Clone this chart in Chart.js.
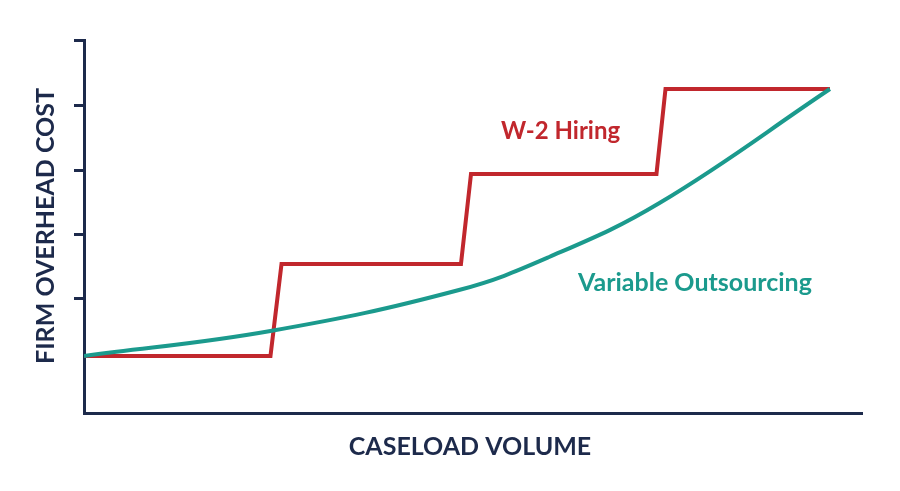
<!DOCTYPE html>
<html lang="en">
<head>
  <meta charset="UTF-8" />
  <title>Overhead Cost vs Caseload</title>
  <script src="https://cdn.jsdelivr.net/npm/chart.js@4.4.0/dist/chart.umd.min.js"></script>
  <style>
    html, body { margin: 0; background: #fff; }
    #wrap { width: 900px; height: 491px; }
  </style>
</head>
<body>
  <div id="wrap"><canvas id="chart"></canvas></div>
  <script>
    // caseload volume (x) and overhead cost (y), arbitrary units
    const hiringX = [0, 186, 197, 376, 386, 571, 580, 744];
    const hiringY = [57, 57, 149, 149, 239, 239, 324, 324];
    const outsourceX = [0, 186, 374, 464, 574, 744];
    const outsourceY = [57, 82, 123, 156, 210, 324];
    const yTicks = [115, 179, 243, 308, 373];

    const NAVY = '#1d2a4b';
    const RED = '#c1272d';
    const TEAL = '#1b9a8d';

    const textPlugin = {
      id: 'texts',
      afterDraw(chart) {
        const ctx = chart.ctx;
        ctx.save();
        ctx.textBaseline = 'middle';
        ctx.font = 'bold 24px Lato';
        ctx.fillStyle = RED;
        ctx.textAlign = 'left';
        ctx.fillText('W-2 Hiring', 501, 131);
        ctx.fillStyle = TEAL;
        ctx.font = 'bold 25px Lato';
        ctx.fillText('Variable Outsourcing', 578, 283);
        ctx.fillStyle = NAVY;
        ctx.font = 'bold 25px Lato';
        ctx.textAlign = 'center';
        ctx.fillText('CASELOAD VOLUME', 470, 447);
        ctx.translate(46, 226);
        ctx.rotate(-Math.PI / 2);
        ctx.fillText('FIRM OVERHEAD COST', 0, 0);
        ctx.restore();
      }
    };

    new Chart(document.getElementById('chart'), {
      type: 'line',
      data: {
        datasets: [
          {
            label: 'Variable Outsourcing',
            data: outsourceX.map((x, i) => ({ x, y: outsourceY[i] })),
            borderColor: TEAL,
            borderWidth: 4,
            pointRadius: 0,
            tension: 0.4
          },
          {
            label: 'W-2 Hiring',
            data: hiringX.map((x, i) => ({ x, y: hiringY[i] })),
            borderColor: RED,
            borderWidth: 4,
            pointRadius: 0,
            tension: 0
          }
        ]
      },
      options: {
        responsive: true,
        maintainAspectRatio: false,
        animation: false,
        layout: { padding: { left: 74, right: 38, top: 40, bottom: 70 } },
        plugins: { legend: { display: false }, tooltip: { enabled: false } },
        scales: {
          x: {
            type: 'linear', min: 0, max: 776,
            ticks: { display: false },
            grid: { display: false },
            border: { color: NAVY, width: 3 }
          },
          y: {
            type: 'linear', min: 0, max: 373,
            afterBuildTicks: axis => { axis.ticks = yTicks.map(v => ({ value: v })); },
            ticks: { display: false },
            grid: { drawOnChartArea: false, drawTicks: true, tickLength: 10, color: NAVY, lineWidth: 3 },
            border: { color: NAVY, width: 3 }
          }
        }
      },
      plugins: [textPlugin]
    });
  </script>
</body>
</html>
